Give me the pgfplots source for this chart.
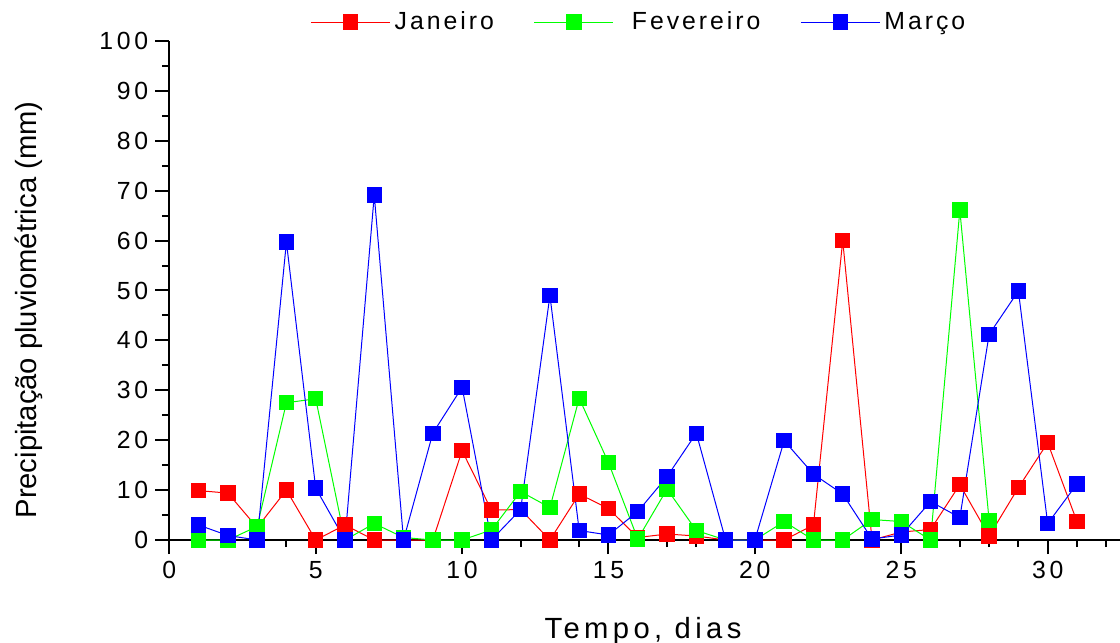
\documentclass[border=0pt]{standalone}
\usepackage{pgfplots}
\pgfplotsset{compat=1.18}
\usepackage{fontspec}
\setmainfont{Liberation Sans}
\newfontfamily\spaced[LetterSpace=15]{Liberation Sans}
\newfontfamily\spacedl[LetterSpace=12]{Liberation Sans}
\begin{document}
\begin{tikzpicture}
\useasboundingbox (0,0) rectangle (560pt,321.5pt);
\begin{axis}[
 at={(84.65pt,51.5pt)}, anchor=south west,
 scale only axis, width=475.35pt, height=249.5pt,
 xmin=0, xmax=32.47, ymin=0, ymax=100,
 axis x line*=bottom, axis y line*=left,
 axis line style={line width=1pt, -},
 xtick={0,5,...,30}, minor xtick={1,...,32},
 ytick={0,10,...,100}, minor ytick={5,15,...,95},
 tick align=outside,
 major tick length=7pt, minor tick length=3.5pt,
 every tick/.style={black, line width=1pt},
 /pgf/number format/assume math mode=true,
 tick label style={font=\spaced\fontsize{12.4}{14}\selectfont},
 xlabel={Tempo, dias},
 ylabel={Precipitação pluviométrica (mm)},
 xlabel style={at={(axis description cs:0.4983,-0.197)}, anchor=base, font=\spaced\fontsize{14.6}{17}\selectfont},
 ylabel style={at={(axis description cs:-0.1481,0.461)}, anchor=center, font=\fontsize{14.6}{17}\selectfont},
 legend style={at={(0.4951,1.038)}, anchor=center, draw=none, fill=none,
   font=\spacedl\fontsize{12.4}{14}\selectfont,
   /tikz/every even column/.append style={column sep=18pt}},
 legend columns=3,
 legend image code/.code={\draw[mark repeat=2,mark phase=2,#1] plot coordinates {(0pt,0pt) (19.75pt,0pt) (39.5pt,0pt)};},
 every axis plot/.append style={line width=0.5pt, mark=square*, mark size=3.6pt, mark options={solid}},
 clip=false,
]
\addplot[red] coordinates {
(1,9.9) (2,9.4) (3,2.5) (4,10.0) (5,0) (6,3.0) (7,0) (8,0) (9,0) (10,17.9)
(11,6.0) (12,6.1) (13,0) (14,9.2) (15,6.3) (16,0.5) (17,1.2) (18,0.8) (19,0) (20,0)
(21,0) (22,3.0) (23,60.0) (24,0) (25,1.6) (26,2.1) (27,11.1) (28,0.8) (29,10.5) (30,19.5) (31,3.7)
};
\addlegendentry{Janeiro}
\addplot[green] coordinates {
(1,0) (2,0) (3,2.7) (4,27.5) (5,28.3) (6,0) (7,3.3) (8,0.5) (9,0) (10,0)
(11,2.0) (12,9.7) (13,6.5) (14,28.4) (15,15.5) (16,0.2) (17,10.2) (18,1.9) (19,0) (20,0)
(21,3.7) (22,0) (23,0) (24,4.1) (25,3.7) (26,0) (27,66.1) (28,3.9)
};
\addlegendentry{\hspace{7pt}Fevereiro}
\addplot[blue] coordinates {
(1,3.0) (2,0.9) (3,0) (4,59.7) (5,10.4) (6,0) (7,69.1) (8,0) (9,21.4) (10,30.6)
(11,0) (12,6.1) (13,49.0) (14,1.9) (15,1.0) (16,5.7) (17,12.7) (18,21.4) (19,0) (20,0)
(21,19.9) (22,13.2) (23,9.2) (24,0.2) (25,1.0) (26,7.7) (27,4.5) (28,41.2) (29,49.9) (30,3.3) (31,11.2)
};
\addlegendentry{Março}
\end{axis}
\end{tikzpicture}
\end{document}
